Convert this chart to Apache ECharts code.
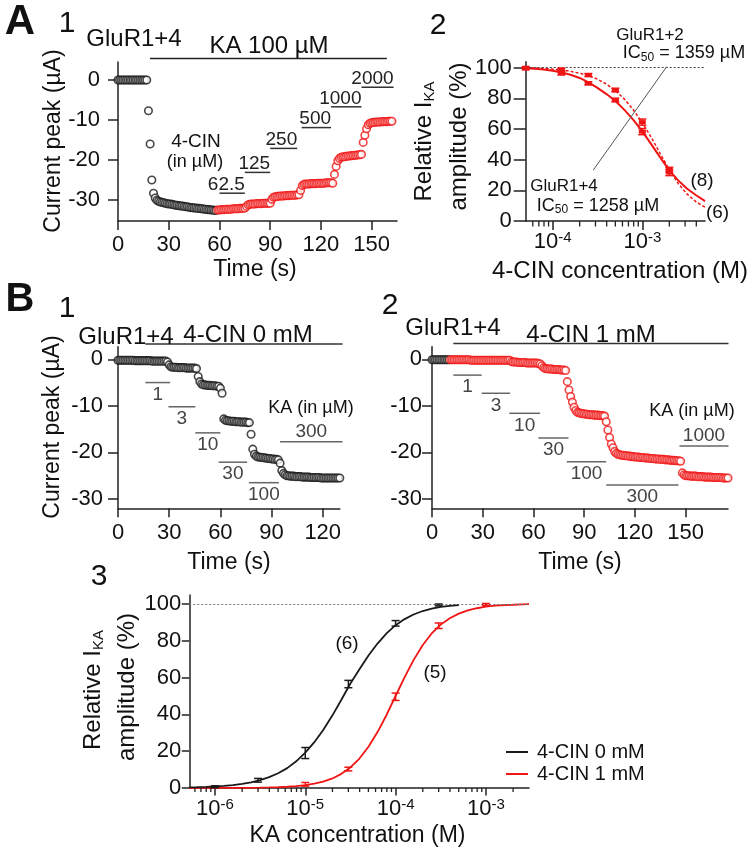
<!DOCTYPE html>
<html><head><meta charset="utf-8">
<script src="https://cdn.jsdelivr.net/npm/echarts@6/dist/echarts.min.js"></script>
<style>html,body{margin:0;padding:0;background:#fff}#c{width:752px;height:853px}</style>
</head><body><div id="c"></div>
<script>
const FONT = 'Arial, "Liberation Sans", Helvetica, sans-serif';
const RED = '#f01515';
const BLACK = '#1a1a1a';

// ---------- Panel A1 : current peak vs time (1 sample / s) ----------
const A1_step = 1;
const A1_black_t0 = 0;
const A1_black = [0,0,0,0,0,0,0,0,0,0,0,0,0,0,0,0,0,0,
  -7.7,-16,-25,-28.3,-29.5,-30.1,-30.3,-30.5,-30.6,-30.7,-30.8,-30.9,-31.0,-31.0,-31.1,-31.2,-31.3,-31.3,-31.4,-31.5,-31.5,-31.6,-31.7,-31.7,-31.8,-31.9,-31.9,-32.0,-32.0,-32.1,-32.1,-32.2,-32.2,-32.3,-32.3,-32.4,-32.4,-32.5,-32.5,-32.6,-32.6];
const A1_red_t0 = 59;
const A1_red = [-32.5,-32.5,-32.4,-32.4,-32.4,-32.3,-32.3,-32.3,-32.3,-32.2,-32.2,-32.2,-32.2,-32.1,-32.1,-32.1,-32.0,
  -31.6,-31.2,
  -31.1,-31.0,-31.0,-31.0,-30.9,-30.9,-30.9,-30.9,-30.8,-30.8,-30.8,-30.8,-30.8,
  -29.8,-29.3,
  -29.2,-29.1,-29.1,-29.0,-29.0,-29.0,-28.9,-28.9,-28.9,-28.8,-28.8,-28.8,-28.8,-28.7,-28.7,
  -27.6,-26.4,
  -26.1,-26.0,-26.0,-26.0,-25.9,-25.9,-25.9,-25.9,-25.8,-25.8,-25.8,-25.8,-25.8,-25.7,-25.7,-25.7,-25.7,-25.8,
  -23.6,-21.6,-20.2,-19.6,
  -19.3,-19.2,-19.2,-19.1,-19.0,-19.0,-18.9,-18.9,-18.8,-18.8,-18.7,-18.7,-18.6,
  -15.6,-13.8,-12.2,-11.2,
  -10.8,-10.7,-10.6,-10.6,-10.5,-10.5,-10.5,-10.4,-10.4,-10.4,-10.4,-10.3,-10.3,-10.3];
const A1_xTicks = [0,30,60,90,120,150];
const A1_yTicks = [0,-10,-20,-30];
const A1_cinBars = [
  {c:'62.5', t0:60, t1:75, y:-28.3},
  {c:'125', t0:75, t1:90, y:-23.1},
  {c:'250', t0:90, t1:106, y:-17.1},
  {c:'500', t0:108.6, t1:126, y:-11.9},
  {c:'1000', t0:126, t1:144, y:-6.7},
  {c:'2000', t0:144, t1:163, y:-1.8}];
const A1_kaBar = [{c:'', t0:18.9, t1:159, y:5.4}];

// ---------- Panel A2 : inhibition curves ----------
const A2_conc = [5e-5, 1.25e-4, 2.5e-4, 5e-4, 1e-3, 2e-3];
const A2_GluR14_mean = [99.5, 96.3, 89.8, 78.9, 58.3, 31.6];
const A2_GluR14_err = [0.8, 1, 1, 1.2, 2, 2];
const A2_GluR12_mean = [100, 98.8, 95.2, 85.4, 64.5, 33.5];
const A2_GluR12_err = [0.5, 0.8, 1, 1.2, 2, 1.5];
const A2_fitX = [5.01e-5, 6.31e-5, 7.94e-5, 1e-4, 1.26e-4, 1.58e-4, 2e-4, 2.51e-4, 3.16e-4, 3.98e-4, 5.01e-4,
  6.31e-4, 7.94e-4, 1e-3, 1.26e-3, 1.58e-3, 2e-3, 2.51e-3, 3.16e-3, 3.98e-3, 5.01e-3];
const A2_fit14 = [99.6, 99.3, 98.8, 98.0, 96.9, 95.4, 93.3, 90.4, 86.8, 82.8, 78.3, 72.5, 66.0, 58.5, 50.0, 41.5, 33.0, 26.5, 21.0, 16.8, 13.0];
const A2_fit12 = [99.9, 99.8, 99.5, 99.0, 98.5, 97.6, 96.4, 94.8, 92.5, 89.3, 85.0, 79.5, 72.5, 64.0, 54.5, 44.0, 33.5, 24.5, 17.5, 12.5, 9.0];
const A2_yTicks = [0,20,40,60,80,100];
const A2_minorTicks = [6e-5,7e-5,8e-5,9e-5,2e-4,3e-4,4e-4,5e-4,6e-4,7e-4,8e-4,9e-4,2e-3,3e-3,4e-3];

// ---------- Panel B1 : 4-CIN 0 mM ----------
const B1_t0 = 0;
const B1_vals = [-0.2,-0.2,-0.2,-0.2,-0.2,-0.2,-0.2,-0.2,-0.2,-0.2,-0.3,-0.3,-0.3,-0.3,-0.3,-0.3,-0.3,-0.3,-0.3,-0.3,-0.4,-0.4,-0.4,-0.4,-0.4,-0.4,-0.4,-0.4,-0.4,
  -0.6,-1.2,-1.6,
  -1.7,-1.7,-1.7,-1.8,-1.8,-1.8,-1.8,-1.8,-1.9,-1.9,-1.9,-1.9,-1.9,-1.9,
  -2.0,-3.7,-4.8,-5.3,
  -5.5,-5.5,-5.6,-5.6,-5.6,-5.7,-5.7,-5.7,-5.8,-5.8,
  -6.2,-7.3,
  -12.8,-13.1,-13.2,-13.2,-13.3,-13.3,-13.3,-13.4,-13.4,-13.4,-13.5,-13.5,-13.5,-13.5,-13.6,-13.6,
  -16.1,-19.3,-20.4,-20.8,
  -21.0,-21.0,-21.1,-21.1,-21.2,-21.2,-21.3,-21.3,-21.4,-21.4,-21.5,-21.5,-21.6,
  -22.3,-23.9,-24.5,-24.8,
  -25.0,-25.0,-25.1,-25.1,-25.1,-25.2,-25.2,-25.2,-25.2,-25.3,-25.3,-25.3,-25.3,-25.3,-25.4,-25.4,-25.4,-25.4,-25.4,-25.4,-25.5,-25.5,-25.5,-25.5,-25.5,-25.5,-25.5,-25.5,-25.5,-25.5,-25.5,-25.5];
const B1_xTicks = [0,30,60,90,120];
const B_yTicks = [0,-10,-20,-30];
const B1_kaBars = [
  {c:'1', t0:16, t1:30.6, y:-5},
  {c:'3', t0:29.6, t1:45.3, y:-10.2},
  {c:'10', t0:45.3, t1:60, y:-15.8},
  {c:'30', t0:59, t1:75.7, y:-22.1},
  {c:'100', t0:76.7, t1:94.3, y:-26.5},
  {c:'300', t0:95, t1:131.6, y:-17.7, above:true}];
const B1_cinBar = [{c:'', t0:16, t1:131.6, y:3.3}];

// ---------- Panel B2 : 4-CIN 1 mM ----------
const B2_black_t0 = 0;
const B2_black = [-0.1,-0.1,-0.1,-0.1,-0.1,-0.1,-0.1,-0.1,-0.1,-0.1,-0.1];
const B2_red_t0 = 11;
const B2_red = [-0.1,-0.1,-0.1,-0.1,-0.1,-0.1,-0.1,-0.1,-0.1,-0.1,-0.1,-0.1,
  -0.2,-0.2,-0.2,-0.2,-0.2,-0.2,-0.2,-0.2,-0.2,-0.2,-0.2,-0.2,-0.2,-0.2,-0.2,-0.2,-0.2,-0.2,-0.2,-0.2,-0.2,-0.2,-0.2,-0.2,
  -0.5,-0.6,-0.6,-0.6,-0.7,-0.7,-0.7,-0.7,-0.7,-0.8,-0.8,-0.8,-0.8,-0.8,-0.8,-0.8,-0.9,
  -1.0,-1.4,-1.8,
  -2.0,-2.0,-2.1,-2.1,-2.1,-2.2,-2.2,-2.2,-2.2,-2.3,-2.3,-2.3,-2.4,
  -4.8,-6.6,-8.0,-9.2,-10.3,-11.0,
  -11.4,-11.5,-11.6,-11.7,-11.7,-11.8,-11.8,-11.9,-11.9,-11.9,-12.0,-12.0,-12.0,-12.1,-12.1,-12.1,-12.2,
  -13.4,-15.2,-16.8,-18.2,-19.0,-19.8,-20.2,
  -20.4,-20.5,-20.6,-20.6,-20.7,-20.7,-20.8,-20.8,-20.9,-20.9,-21.0,-21.0,-21.0,-21.1,-21.1,-21.1,-21.2,-21.2,-21.2,-21.3,-21.3,-21.3,-21.4,-21.4,-21.4,-21.5,-21.5,-21.5,-21.6,-21.6,-21.6,-21.7,-21.7,-21.7,-21.8,-21.8,-21.8,-21.9,
  -24.4,-24.8,
  -25.0,-25.0,-25.0,-25.1,-25.1,-25.1,-25.1,-25.2,-25.2,-25.2,-25.2,-25.3,-25.3,-25.3,-25.3,-25.3,-25.4,-25.4,-25.4,-25.4,-25.4,-25.4,-25.5,-25.5,-25.5,-25.5];
const B2_xTicks = [0,30,60,90,120,150];
const B2_kaBars = [
  {c:'1', t0:12.6, t1:29.4, y:-3.4},
  {c:'3', t0:29.4, t1:46.2, y:-7.3},
  {c:'10', t0:45.7, t1:63.9, y:-11.6},
  {c:'30', t0:62.9, t1:80.7, y:-16.9},
  {c:'100', t0:79.7, t1:103, y:-22},
  {c:'300', t0:103, t1:145.7, y:-27},
  {c:'1000', t0:146.3, t1:175.3, y:-18.6, above:true}];
const B2_cinBar = [{c:'', t0:12.6, t1:175.3, y:3.4}];

// ---------- Panel B3 : KA dose-response ----------
const B3_conc0 = [1e-6, 3e-6, 1e-5, 3e-5, 1e-4, 3e-4];
const B3_mean0 = [0.7, 4.2, 19, 56.5, 89.5, 99.5];
const B3_err0 = [0.5, 1, 3, 2, 1.5, 0.5];
const B3_conc1 = [1e-5, 3e-5, 1e-4, 3e-4, 1e-3];
const B3_mean1 = [2, 10.3, 49.6, 88.2, 99.8];
const B3_err1 = [1, 1, 2, 1.5, 0.5];
const B3_fitX0 = [5.2e-7, 6.31e-7, 7.94e-7, 1e-6, 1.26e-6, 1.58e-6, 2e-6, 2.51e-6, 3.16e-6, 3.98e-6, 5.01e-6, 6.31e-6, 7.94e-6,
  1e-5, 1.26e-5, 1.58e-5, 2e-5, 2.51e-5, 3.16e-5, 3.98e-5, 5.01e-5, 6.31e-5, 7.94e-5,
  1e-4, 1.26e-4, 1.58e-4, 2e-4, 2.51e-4, 3.16e-4, 3.98e-4, 5.01e-4];
const B3_fit0 = [0.33, 0.43, 0.6, 0.83, 1.2, 1.6, 2.2, 3.1, 4.3, 5.9, 8.0, 10.8, 14.5,
  19.2, 24.9, 31.5, 39.5, 48, 56.8, 64.5, 72, 78.5, 84,
  88.5, 91.8, 94.3, 96.2, 97.5, 98.4, 99.0, 99.4];
const B3_fitX1 = [5.2e-7, 1e-6, 2e-6, 3.16e-6, 3.98e-6, 5.01e-6, 6.31e-6, 7.94e-6,
  1e-5, 1.26e-5, 1.58e-5, 2e-5, 2.51e-5, 3.16e-5, 3.98e-5, 5.01e-5, 6.31e-5, 7.94e-5,
  1e-4, 1.26e-4, 1.58e-4, 2e-4, 2.51e-4, 3.16e-4, 3.98e-4, 5.01e-4, 6.31e-4, 7.94e-4,
  1e-3, 1.26e-3, 1.58e-3, 2e-3, 2.51e-3, 3e-3];
const B3_fit1 = [0, 0.02, 0.08, 0.2, 0.3, 0.45, 0.69, 1.03,
  1.56, 2.35, 3.5, 5.2, 7.7, 11.2, 16.0, 22.4, 30.4, 39.7,
  50, 60.3, 69.5, 77.7, 84.0, 88.8, 92.3, 94.8, 96.5, 97.7,
  98.6, 99.1, 99.4, 99.6, 99.8, 99.9];
const B3_yTicks = [0,20,40,60,80,100];
const B3_minorTicks = [6e-7,7e-7,8e-7,9e-7,2e-6,3e-6,4e-6,5e-6,6e-6,7e-6,8e-6,9e-6,2e-5,3e-5,4e-5,5e-5,6e-5,7e-5,8e-5,9e-5,2e-4,3e-4,4e-4,5e-4,6e-4,7e-4,8e-4,9e-4,2e-3];
const legendNames = ['4-CIN 0 mM', '4-CIN 1 mM'];

// ---------- helpers ----------
const AXC = '#222';
function pairs(t0, step, vals){ return vals.map((v,i)=>[t0+i*step, v]); }
function zip(xs, ys){ return xs.map((x,i)=>[x, ys[i]]); }
function linAxis(gi, min, max, ticks, margin, tickLen, fs){
  return {type:'value', gridIndex:gi, min, max,
    axisLine:{show:true, onZero:false, lineStyle:{color:AXC, width:1.5}},
    axisTick:{show:true, inside:false, length:tickLen, customValues:ticks, lineStyle:{color:AXC, width:1.5}},
    axisLabel:{customValues:ticks, fontSize:fs||22, color:'#111', fontFamily:FONT, margin},
    splitLine:{show:false}};
}
function logAxis(gi, min, max, margin, tickLen){
  return {type:'log', logBase:10, gridIndex:gi, min, max,
    axisLine:{show:true, onZero:false, lineStyle:{color:AXC, width:1.5}},
    axisTick:{show:true, inside:false, length:tickLen, lineStyle:{color:AXC, width:1.5}},
    axisLabel:{showMinLabel:false, showMaxLabel:false, margin, color:'#111',
      formatter: v => '{b|10}{s|' + Math.round(Math.log10(v)) + '}',
      rich:{b:{fontSize:22, fontFamily:FONT, color:'#111', lineHeight:24},
            s:{fontSize:15, fontFamily:FONT, color:'#111', lineHeight:8, verticalAlign:'top'}}},
    splitLine:{show:false}, minorTick:{show:false}};
}
function traceSeries(gi, data, color){
  return {type:'scatter', xAxisIndex:gi, yAxisIndex:gi, data, symbol:'circle', symbolSize:7.5,
    itemStyle:{color:'#fff', borderColor:color, borderWidth:1.6}, silent:true, z:3};
}
function barSeries(gi, bars, mode, color, lw, fs, textColor){
  return {type:'custom', xAxisIndex:gi, yAxisIndex:gi, clip:false, silent:true, z:6,
    data: bars.map(b=>[b.t0, b.y, b.t1]),
    renderItem(params, api){
      const b = bars[params.dataIndex];
      const p0 = api.coord([api.value(0), api.value(1)]);
      const p1 = api.coord([api.value(2), api.value(1)]);
      const ch = [{type:'line', shape:{x1:p0[0], y1:p0[1], x2:p1[0], y2:p1[1]}, style:{stroke:color, lineWidth:lw}}];
      if (b.c){
        let tx, ty, align, va;
        if (mode === 'right'){ tx = p1[0]; ty = p1[1] + 1; align = 'right'; va = 'bottom'; }
        else if (b.above){ tx = (p0[0]+p1[0])/2; ty = p0[1] - 10; align = 'center'; va = 'middle'; }
        else { tx = (p0[0]+p1[0])/2; ty = p0[1] + 12; align = 'center'; va = 'middle'; }
        ch.push({type:'text', style:{x:tx, y:ty, text:b.c, fill:textColor, fontSize:fs, fontFamily:FONT, align, verticalAlign:va}});
      }
      return {type:'group', children:ch};
    }};
}
function errSeries(gi, xs, ms, es, color, marker){
  return {type:'custom', xAxisIndex:gi, yAxisIndex:gi, clip:false, silent:true, z:7,
    data: xs.map((x,i)=>[x, ms[i], es[i]]),
    renderItem(params, api){
      const x = api.value(0), m = api.value(1), e = api.value(2);
      const c = api.coord([x, m]), t = api.coord([x, m+e]), b = api.coord([x, m-e]);
      const st = {stroke:color, lineWidth:1.5};
      const ch = [
        {type:'line', shape:{x1:t[0], y1:t[1], x2:b[0], y2:b[1]}, style:st},
        {type:'line', shape:{x1:t[0]-4, y1:t[1], x2:t[0]+4, y2:t[1]}, style:st},
        {type:'line', shape:{x1:b[0]-4, y1:b[1], x2:b[0]+4, y2:b[1]}, style:st}];
      if (marker) ch.push({type:'rect', shape:{x:c[0]-3.5, y:c[1]-2, width:7, height:4}, style:{fill:color}});
      return {type:'group', children:ch};
    }};
}
function minorSeries(gi, vals, len){
  return {type:'custom', xAxisIndex:gi, yAxisIndex:gi, clip:false, silent:true, z:8,
    data: vals.map(v=>[v, 0]),
    renderItem(params, api){
      const p = api.coord([api.value(0), api.value(1)]);
      return {type:'line', shape:{x1:p[0], y1:p[1], x2:p[0], y2:p[1]+len}, style:{stroke:AXC, lineWidth:1.3}};
    }};
}
function txt(x, y, text, fs, opts){
  opts = opts || {};
  return {type:'text', x, y, rotation: opts.rot || 0, silent:true, z:100,
    style:Object.assign({text, fill: opts.fill || '#111', fontSize:fs, fontFamily:FONT,
      fontWeight: opts.bold ? 'bold' : 'normal', align: opts.align || 'center', verticalAlign:'middle'},
      opts.rich ? {rich: opts.rich} : {}, opts.lineHeight ? {lineHeight: opts.lineHeight} : {})};
}
const subRich = fs => ({s:{fontSize:fs, fontFamily:FONT, fill:'#111', color:'#111', verticalAlign:'bottom', lineHeight:6}});
function curve(gi, name, xs, ys, color, width, type, z, mark){
  const s = {type:'line', name, xAxisIndex:gi, yAxisIndex:gi, data:zip(xs, ys), smooth:false,
    showSymbol:false, symbol:'none', color, itemStyle:{color}, lineStyle:{color, width, type}, silent:true, z};
  if (mark) s.markLine = {silent:true, symbol:'none', label:{show:false}, data:[{yAxis:100}],
    lineStyle:{color:mark, type:[2,2], width:1}};
  return s;
}

const chart = echarts.init(document.getElementById('c'), null, {renderer:'canvas'});
const option = {
  animation:false,
  backgroundColor:'#fff',
  textStyle:{fontFamily:FONT},
  grid:[
    {left:118, top:62, width:279, height:159, containLabel:false, outerBoundsMode:'none'},
    {left:525.7, top:61.7, width:179.3, height:159.3, containLabel:false, outerBoundsMode:'none'},
    {left:118, top:346.7, width:221.8, height:161.6, containLabel:false, outerBoundsMode:'none'},
    {left:432, top:346.7, width:296, height:161.6, containLabel:false, outerBoundsMode:'none'},
    {left:189.3, top:595, width:339.7, height:193, containLabel:false, outerBoundsMode:'none'}],
  xAxis:[
    linAxis(0, 0, 165, A1_xTicks, 13, 9),
    logAxis(1, 5e-5, 5e-3, 9, 9),
    linAxis(2, 0, 130, B1_xTicks, 14, 9),
    linAxis(3, 0, 175, B2_xTicks, 14, 9),
    logAxis(4, 5.2e-7, 3e-3, 9, 7.5)],
  yAxis:[
    linAxis(0, -35.25, 4.5, A1_yTicks, 18, 10),
    linAxis(1, 0, 103.9, A2_yTicks, 14, 12),
    linAxis(2, -32, 2.7, B_yTicks, 15, 10),
    linAxis(3, -32, 2.7, B_yTicks, 10, 10),
    linAxis(4, 0, 104.9, B3_yTicks, 8, 7.5)],
  legend:{data:legendNames, orient:'vertical', left:501, top:737, itemWidth:22, itemHeight:2, icon:'rect',
    itemGap:2, textStyle:{fontSize:20, color:'#111', fontFamily:FONT, lineHeight:20, padding:[0,0,0,4]}},
  series:[
    // A1
    traceSeries(0, pairs(A1_black_t0, A1_step, A1_black), BLACK),
    traceSeries(0, pairs(A1_red_t0, A1_step, A1_red), RED),
    barSeries(0, A1_cinBars, 'right', '#333', 1.5, 19, '#222'),
    barSeries(0, A1_kaBar, 'right', '#222', 1.5, 19, '#222'),
    // A2
    curve(1, 'GluR1+2', A2_fitX, A2_fit12, RED, 1.5, [3,2], 4, '#444'),
    curve(1, 'GluR1+4', A2_fitX, A2_fit14, RED, 2, 'solid', 4, null),
    errSeries(1, A2_conc, A2_GluR12_mean, A2_GluR12_err, RED, true),
    errSeries(1, A2_conc, A2_GluR14_mean, A2_GluR14_err, RED, true),
    minorSeries(1, A2_minorTicks, 5.5),
    // B1
    traceSeries(2, pairs(B1_t0, 1, B1_vals), BLACK),
    barSeries(2, B1_kaBars, 'center', '#666', 1.5, 19, '#444'),
    barSeries(2, B1_cinBar, 'center', '#333', 1.5, 19, '#222'),
    // B2
    traceSeries(3, pairs(B2_black_t0, 1, B2_black), BLACK),
    traceSeries(3, pairs(B2_red_t0, 1, B2_red), RED),
    barSeries(3, B2_kaBars, 'center', '#666', 1.5, 19, '#444'),
    barSeries(3, B2_cinBar, 'center', '#333', 1.5, 19, '#222'),
    // B3
    curve(4, legendNames[1], B3_fitX1, B3_fit1, RED, 1.8, 'solid', 4, '#777'),
    curve(4, legendNames[0], B3_fitX0, B3_fit0, BLACK, 1.8, 'solid', 5, null),
    errSeries(4, B3_conc0, B3_mean0, B3_err0, BLACK, false),
    errSeries(4, B3_conc1, B3_mean1, B3_err1, RED, false),
    minorSeries(4, B3_minorTicks, 4)
  ],
  graphic:[
    txt(20, 22, 'A', 42, {bold:true}),
    txt(67, 24, '1', 30),
    txt(134, 39, 'GluR1+4', 24),
    txt(269, 46, 'KA 100 µM', 24),
    txt(196, 142, '4-CIN', 19),
    txt(195, 162, '(in µM)', 18),
    txt(255, 270, 'Time (s)', 23),
    txt(54, 141, 'Current peak (µA)', 23, {rot:Math.PI/2}),
    txt(438, 26, '2', 30),
    txt(424, 141.5, 'Relative I{s|KA}', 24, {rot:Math.PI/2, rich:subRich(15), lineHeight:26}),
    txt(459.5, 136.5, 'amplitude (%)', 24, {rot:Math.PI/2}),
    txt(620, 271, '4-CIN concentration (M)', 24),
    txt(650, 35, 'GluR1+2', 17),
    txt(684, 53.3, 'IC{s|50} = 1359 µM', 18, {rich:subRich(12), lineHeight:20}),
    txt(564, 186, 'GluR1+4', 17),
    txt(598, 206, 'IC{s|50} = 1258 µM', 18, {rich:subRich(12), lineHeight:20}),
    {type:'line', silent:true, z:90, shape:{x1:666.7, y1:66.7, x2:593.3, y2:170}, style:{stroke:'#555', lineWidth:1}},
    txt(702, 181, '(8)', 19),
    txt(717.5, 212.5, '(6)', 19),
    txt(20, 300, 'B', 40, {bold:true}),
    txt(67, 309, '1', 30),
    txt(126, 337, 'GluR1+4', 24),
    txt(248, 335, '4-CIN 0 mM', 24),
    txt(311, 408, 'KA (in µM)', 18),
    txt(53, 427, 'Current peak (µA)', 23, {rot:Math.PI/2}),
    txt(229, 563, 'Time (s)', 23),
    txt(390, 306, '2', 30),
    txt(453, 328, 'GluR1+4', 24),
    txt(591, 335, '4-CIN 1 mM', 24),
    txt(692, 411, 'KA (in µM)', 18),
    txt(580, 563, 'Time (s)', 23),
    txt(99, 577, '3', 30),
    txt(93, 690, 'Relative I{s|KA}', 24, {rot:Math.PI/2, rich:subRich(15), lineHeight:26}),
    txt(127.5, 687, 'amplitude (%)', 24, {rot:Math.PI/2}),
    txt(357.5, 836, 'KA concentration (M)', 23),
    txt(347, 644, '(6)', 19),
    txt(435, 673, '(5)', 19)
  ]
};
chart.setOption(option);
</script></body></html>
